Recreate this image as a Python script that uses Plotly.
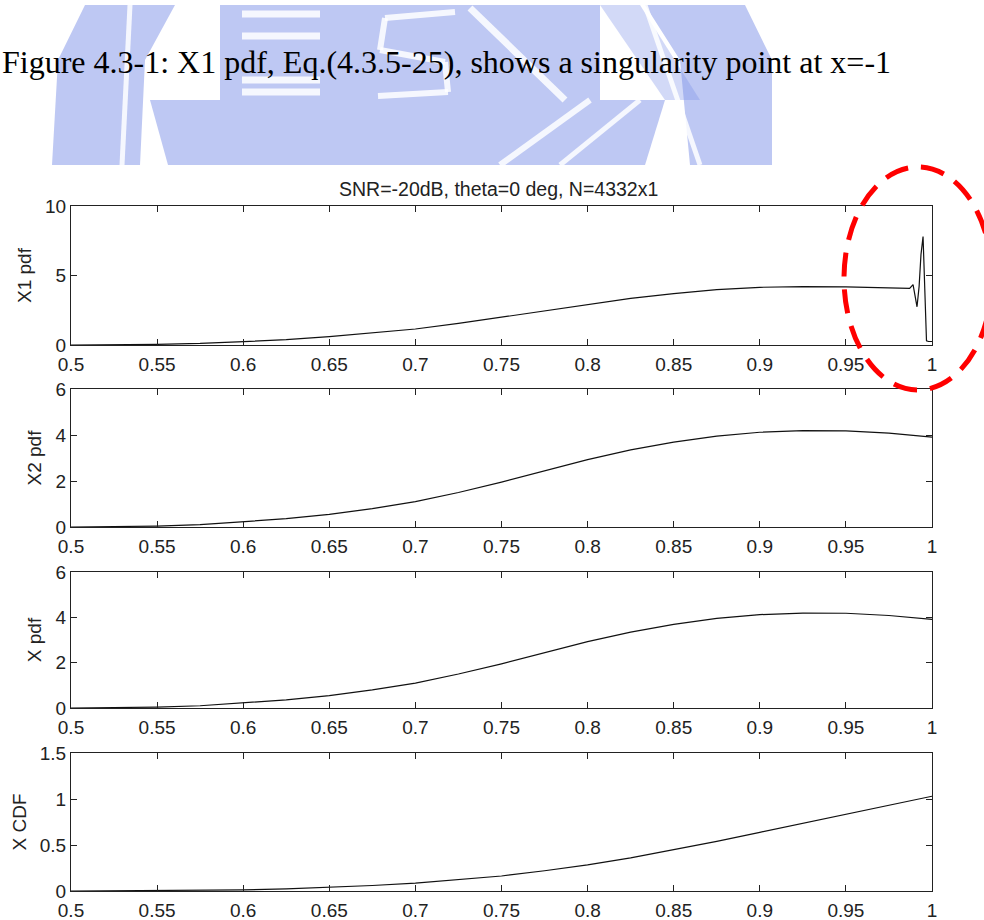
import plotly.graph_objects as go

# ---------------- data ----------------
x1_x = [0.5, 0.525, 0.55, 0.575, 0.6, 0.625, 0.65, 0.675, 0.7, 0.725, 0.75, 0.775, 0.8,
        0.825, 0.85, 0.875, 0.9, 0.925, 0.95, 0.965, 0.98, 0.987, 0.989, 0.9902, 0.9913,
        0.9925, 0.9936, 0.9948, 0.9958, 0.9968, 0.998, 1.0]
x1_pdf = [0.0, 0.01, 0.05, 0.11, 0.22, 0.38, 0.6, 0.85, 1.15, 1.55, 2.0, 2.5, 2.95,
          3.35, 3.7, 3.98, 4.15, 4.2, 4.18, 4.15, 4.1, 4.07, 4.35, 3.6, 2.75,
          4.2, 6.5, 7.8, 4.5, 0.3, 0.25, 0.25]

x_grid = [0.5, 0.525, 0.55, 0.575, 0.6, 0.625, 0.65, 0.675, 0.7, 0.725, 0.75, 0.775, 0.8,
          0.825, 0.85, 0.875, 0.9, 0.925, 0.95, 0.975, 1.0]
x2_pdf = [0.0, 0.01, 0.04, 0.1, 0.22, 0.36, 0.55, 0.8, 1.1, 1.5, 1.95, 2.45, 2.93,
          3.35, 3.69, 3.95, 4.12, 4.19, 4.18, 4.08, 3.91]
x_pdf = [0.0, 0.01, 0.04, 0.1, 0.22, 0.36, 0.55, 0.8, 1.1, 1.5, 1.95, 2.45, 2.93,
         3.35, 3.69, 3.95, 4.12, 4.19, 4.18, 4.08, 3.91]
x_cdf = [0.0, 0.001, 0.003, 0.006, 0.012, 0.024, 0.04, 0.06, 0.085, 0.12, 0.163, 0.22, 0.283,
         0.36, 0.446, 0.54, 0.638, 0.735, 0.834, 0.935, 1.03]

x_ticks = [0.5, 0.55, 0.6, 0.65, 0.7, 0.75, 0.8, 0.85, 0.9, 0.95, 1.0]
x_ticklabels = ["0.5", "0.55", "0.6", "0.65", "0.7", "0.75", "0.8", "0.85", "0.9", "0.95", "1"]
y_titles = ["X1 pdf", "X2 pdf", "X pdf", "X CDF"]
y_ranges = [[0, 10], [0, 6], [0, 6], [0, 1.5]]
y_ticks = [[0, 5, 10], [0, 2, 4, 6], [0, 2, 4, 6], [0, 0.5, 1, 1.5]]
y_ticklabels = [["0", "5", "10"], ["0", "2", "4", "6"], ["0", "2", "4", "6"],
                ["0", "0.5", "1", "1.5"]]

caption = "Figure 4.3-1: X1 pdf, Eq.(4.3.5-25), shows a singularity point at x=-1"
title = "SNR=-20dB, theta=0 deg, N=4332x1"

# ---------------- layout helpers ----------------
W, H = 984, 920
def px(x):
    return x / W
def py(y):
    return 1 - y / H

SANS = "Liberation Sans, Arial, Helvetica, sans-serif"
SERIF = "Liberation Serif, Times New Roman, serif"
INK = "#222222"
FS = 19

# pixel boxes of the 4 panels (top, bottom)
panels = [(206, 345), (389, 527), (572, 708), (753, 891)]
xdom = [px(71), px(932)]

series = [(x1_x, x1_pdf), (x_grid, x2_pdf), (x_grid, x_pdf), (x_grid, x_cdf)]

fig = go.Figure()
layout = dict(
    width=W, height=H,
    margin=dict(l=0, r=0, t=0, b=0, pad=0),
    paper_bgcolor="white", plot_bgcolor="white",
    showlegend=False,
    font=dict(family=SANS, size=FS, color=INK),
)

for i, ((xs, ys), (top, bot)) in enumerate(zip(series, panels)):
    n = "" if i == 0 else str(i + 1)
    fig.add_trace(go.Scatter(x=xs, y=ys, mode="lines",
                             line=dict(color="#111111", width=1.2),
                             xaxis="x" + n, yaxis="y" + n, hoverinfo="skip"))
    layout["xaxis" + n] = dict(
        domain=xdom, anchor="y" + n, range=[0.5, 1.0], automargin=False,
        tickvals=x_ticks, ticktext=x_ticklabels,
        ticks="inside", ticklen=6, tickwidth=1, tickcolor=INK,
        showline=True, linecolor=INK, linewidth=1.2, mirror="ticks",
        showgrid=False, zeroline=False, ticklabelstandoff=2,
        tickfont=dict(family=SANS, size=FS, color=INK),
    )
    layout["yaxis" + n] = dict(
        domain=[py(bot), py(top)], anchor="x" + n, range=y_ranges[i], automargin=False,
        tickvals=y_ticks[i], ticktext=y_ticklabels[i],
        ticks="inside", ticklen=6, tickwidth=1, tickcolor=INK,
        showline=True, linecolor=INK, linewidth=1.2, mirror="ticks",
        showgrid=False, zeroline=False,
        tickfont=dict(family=SANS, size=FS, color=INK),
        title=dict(text=y_titles[i], font=dict(family=SANS, size=FS, color=INK), standoff=8),
    )

# ---------------- watermark (blue logo behind caption) ----------------
BLUE = "rgba(125,145,232,0.5)"
shapes = []
def poly(pts, fill=BLUE, line_color=None, lw=0):
    d = "M " + " L ".join(f"{px(a)},{py(b)}" for a, b in pts) + " Z"
    return dict(type="path", path=d, xref="paper", yref="paper",
                fillcolor=fill, line=dict(width=lw, color=line_color or fill), layer="below")
def seg(a, b, c, d, color="rgba(255,255,255,0.85)", w=6):
    return dict(type="line", x0=px(a), y0=py(b), x1=px(c), y1=py(d), xref="paper", yref="paper",
                line=dict(color=color, width=w), layer="below")

shapes.append(poly([(85, 5), (175, 5), (145, 60), (140, 165), (52, 165), (58, 60)]))
shapes.append(poly([(220, 5), (600, 5), (600, 100), (220, 100)]))
shapes.append(poly([(150, 100), (665, 100), (645, 165), (168, 165)]))
shapes.append(poly([(645, 5), (745, 5), (772, 60), (772, 165), (690, 165), (680, 60)]))
shapes.append(poly([(600, 5), (640, 5), (700, 100), (665, 100)], fill="rgba(125,145,232,0.35)"))
for yy in (14, 36, 80, 92):
    shapes.append(seg(242, yy, 320, yy, w=7))
shapes.append(seg(130, 5, 122, 165, w=5))
shapes.append(seg(470, 8, 565, 100, w=7))
shapes.append(seg(455, 12, 385, 18))
shapes.append(seg(385, 18, 380, 50))
shapes.append(seg(380, 50, 445, 62))
shapes.append(seg(445, 62, 448, 92))
shapes.append(seg(448, 92, 378, 96))
shapes.append(seg(500, 165, 590, 100))
shapes.append(seg(560, 165, 640, 100, w=5))
shapes.append(seg(645, 5, 700, 165, w=5))

# red dashed ellipse around the singularity
shapes.append(dict(type="circle", xref="paper", yref="paper",
                   x0=px(844), x1=px(992), y0=py(390), y1=py(167),
                   line=dict(color="#ff0000", width=5, dash="24px,13px"), layer="above"))
layout["shapes"] = shapes

layout["annotations"] = [
    dict(text=caption, x=0, y=py(62), xref="paper", yref="paper",
         xanchor="left", yanchor="middle", showarrow=False,
         font=dict(family=SERIF, size=32, color="#000000")),
    dict(text=title, x=px(498), y=py(189), xref="paper", yref="paper",
         xanchor="center", yanchor="middle", showarrow=False,
         font=dict(family=SANS, size=19.5, color=INK)),
]

fig.update_layout(**layout)
fig.write_html("out.html")
